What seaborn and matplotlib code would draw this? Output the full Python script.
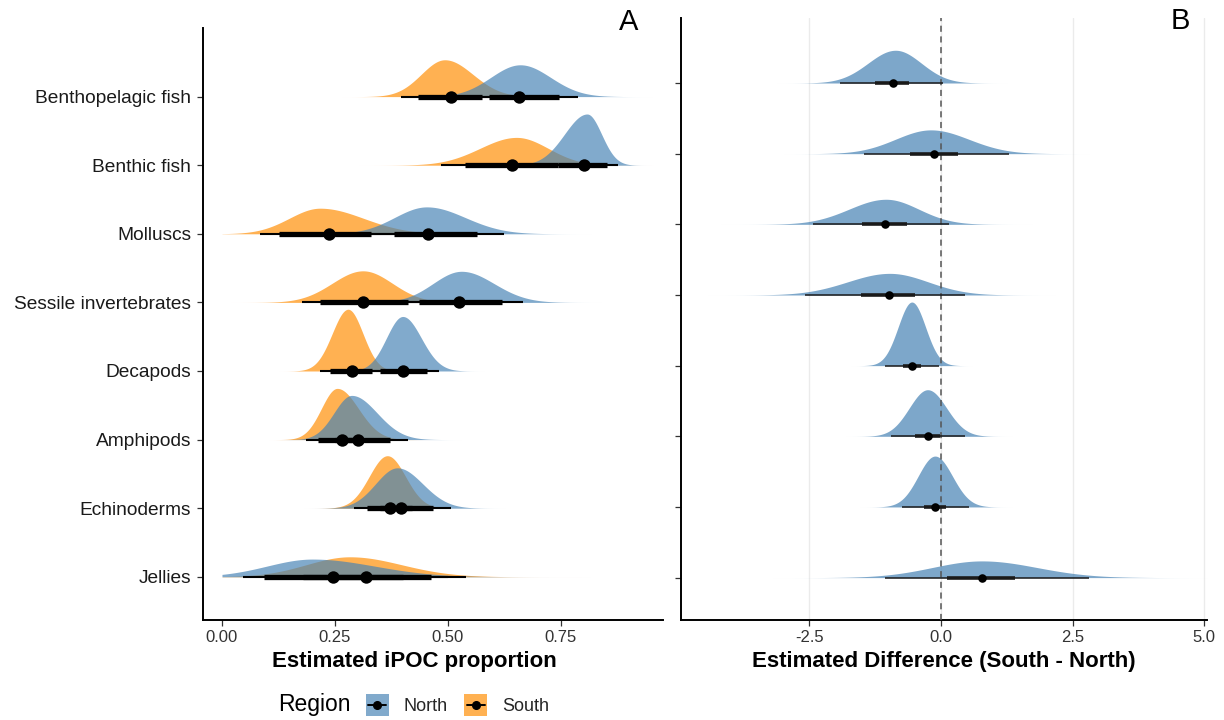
import numpy as np
import pandas as pd
import matplotlib
matplotlib.use("Agg")
import matplotlib.pyplot as plt
import seaborn as sns
from matplotlib.patches import Patch, Rectangle
from matplotlib.lines import Line2D
from matplotlib.legend_handler import HandlerBase

# ---------------- data ----------------
categories = ["Benthopelagic fish", "Benthic fish", "Molluscs", "Sessile invertebrates",
              "Decapods", "Amphipods", "Echinoderms", "Jellies"]
regions = ["North", "South"]

# Panel A: posterior shapes (mode, left spread, right spread) per region
north_mode = [0.660, 0.808, 0.453, 0.530, 0.400, 0.287, 0.388, 0.200]
north_sd_left = [0.065, 0.050, 0.071, 0.063, 0.036, 0.039, 0.048, 0.100]
north_sd_right = [0.067, 0.032, 0.085, 0.072, 0.041, 0.056, 0.056, 0.137]
south_mode = [0.493, 0.652, 0.217, 0.312, 0.279, 0.255, 0.366, 0.283]
south_sd_left = [0.052, 0.081, 0.068, 0.068, 0.035, 0.035, 0.040, 0.096]
south_sd_right = [0.062, 0.070, 0.096, 0.065, 0.033, 0.047, 0.040, 0.114]

# Panel A: medians and intervals
north_median = [0.657, 0.801, 0.457, 0.525, 0.401, 0.302, 0.397, 0.245]
north_q66_lo = [0.590, 0.744, 0.380, 0.436, 0.350, 0.250, 0.350, 0.094]
north_q66_hi = [0.746, 0.853, 0.565, 0.619, 0.453, 0.372, 0.468, 0.400]
north_q95_lo = [0.530, 0.700, 0.320, 0.390, 0.330, 0.220, 0.320, 0.047]
north_q95_hi = [0.788, 0.877, 0.624, 0.667, 0.481, 0.412, 0.506, 0.500]
south_median = [0.507, 0.642, 0.237, 0.311, 0.287, 0.265, 0.372, 0.318]
south_q66_lo = [0.434, 0.538, 0.127, 0.218, 0.239, 0.212, 0.320, 0.180]
south_q66_hi = [0.575, 0.744, 0.330, 0.412, 0.333, 0.310, 0.420, 0.462]
south_q95_lo = [0.396, 0.484, 0.084, 0.176, 0.217, 0.187, 0.293, 0.120]
south_q95_hi = [0.630, 0.790, 0.420, 0.460, 0.360, 0.350, 0.450, 0.541]

# Panel B: difference South - North
diff_mode = [-0.86, -0.19, -1.04, -0.97, -0.55, -0.25, -0.11, 0.78]
diff_sd_left = [0.52, 0.67, 0.70, 0.80, 0.26, 0.35, 0.32, 0.94]
diff_sd_right = [0.49, 0.72, 0.62, 0.73, 0.26, 0.36, 0.33, 1.04]
diff_median = [-0.91, -0.13, -1.06, -0.99, -0.54, -0.25, -0.11, 0.78]
diff_q66_lo = [-1.25, -0.58, -1.49, -1.51, -0.71, -0.49, -0.31, 0.12]
diff_q66_hi = [-0.61, 0.32, -0.64, -0.49, -0.37, -0.02, 0.10, 1.41]
diff_q95_lo = [-1.92, -1.45, -2.43, -2.57, -1.06, -0.94, -0.73, -1.06]
diff_q95_hi = [0.05, 1.29, 0.16, 0.45, -0.03, 0.45, 0.53, 2.82]

a_ticks = [0.00, 0.25, 0.50, 0.75]
a_ticklabels = ["0.00", "0.25", "0.50", "0.75"]
b_ticks = [-2.5, 0.0, 2.5, 5.0]
b_ticklabels = ["-2.5", "0.0", "2.5", "5.0"]

# ---------------- styling ----------------
sns.set_theme(style="white")
plt.rcParams["font.family"] = ["Liberation Sans", "DejaVu Sans"]

BLUE = "#4682B4"
ORANGE = "#FF8C00"
ALPHA = 0.68
region_color = {"North": BLUE, "South": ORANGE}

W, H = 1224, 720
fig = plt.figure(figsize=(W / 100, H / 100), dpi=100)


def box(l, r, t, b):
    return [l / W, 1 - b / H, (r - l) / W, (b - t) / H]


axA = fig.add_axes(box(203, 663, 28, 620))
axB = fig.add_axes(box(681, 1207, 18, 620))

ypos = np.arange(len(categories))[::-1] + 1.0  # top category highest


def split_normal(x, mode, sl, sr):
    s = np.where(x < mode, sl, sr)
    return 2.0 / (np.sqrt(2 * np.pi) * (sl + sr)) * np.exp(-0.5 * ((x - mode) / s) ** 2)


def grid_for(mode, sl, sr, lo=None, hi=None):
    x0, x1 = mode - 4.5 * sl, mode + 4.5 * sr
    if lo is not None:
        x0 = max(x0, lo)
    if hi is not None:
        x1 = min(x1, hi)
    return np.linspace(x0, x1, 400)


# ---- Panel A slabs ----
dfA = pd.DataFrame({
    "category": categories * 2,
    "region": ["North"] * 8 + ["South"] * 8,
    "y": list(ypos) * 2,
    "mode": north_mode + south_mode,
    "sl": north_sd_left + south_sd_left,
    "sr": north_sd_right + south_sd_right,
    "median": north_median + south_median,
    "q66_lo": north_q66_lo + south_q66_lo,
    "q66_hi": north_q66_hi + south_q66_hi,
    "q95_lo": north_q95_lo + south_q95_lo,
    "q95_hi": north_q95_hi + south_q95_hi,
})
curvesA = []
for _, r in dfA.iterrows():
    x = grid_for(r["mode"], r["sl"], r["sr"], 0.0, 1.0)
    d = split_normal(x, r["mode"], r["sl"], r["sr"])
    curvesA.append((r, x, d))
dmaxA = max(d.max() for _, _, d in curvesA)
for reg, z in (("South", 2), ("North", 3)):
    for r, x, d in curvesA:
        if r["region"] != reg:
            continue
        axA.fill_between(x, r["y"], r["y"] + 0.9 * d / dmaxA, color=region_color[reg],
                         alpha=ALPHA, lw=0, zorder=z)

# intervals & points
for _, r in dfA.iterrows():
    axA.hlines(r["y"], r["q95_lo"], r["q95_hi"], color="black", lw=1.5, zorder=4)
for _, r in dfA.iterrows():
    axA.hlines(r["y"], r["q66_lo"], r["q66_hi"], color="black", lw=3.8, zorder=4.5)
sns.scatterplot(data=dfA, x="median", y="y", color="black", s=80, edgecolor="black",
                linewidth=0, zorder=6, ax=axA, legend=False)

axA.set_xlim(-0.042, 0.976)
axA.set_ylim(0.37, 9.0)
axA.set_yticks(ypos)
axA.set_yticklabels(categories)
axA.set_xticks(a_ticks)
axA.set_xticklabels(a_ticklabels)
axA.set_ylabel("")
axA.set_xlabel("Estimated iPOC proportion", fontsize=16, fontweight="bold", color="black")
axA.xaxis.set_label_coords((414 - 203) / 460, -(662 - 620) / 592)
axA.xaxis.label.set_verticalalignment("center")

# ---- Panel B ----
dfB = pd.DataFrame({
    "category": categories, "y": ypos,
    "mode": diff_mode, "sl": diff_sd_left, "sr": diff_sd_right,
    "median": diff_median, "q66_lo": diff_q66_lo, "q66_hi": diff_q66_hi,
    "q95_lo": diff_q95_lo, "q95_hi": diff_q95_hi,
})
curvesB = []
for _, r in dfB.iterrows():
    x = grid_for(r["mode"], r["sl"], r["sr"])
    d = split_normal(x, r["mode"], r["sl"], r["sr"])
    curvesB.append((r, x, d))
dmaxB = max(d.max() for _, _, d in curvesB)

for xv in b_ticks:
    axB.axvline(xv, color="#EBEBEB", lw=1.0, zorder=0)
for r, x, d in curvesB:
    axB.fill_between(x, r["y"], r["y"] + 0.9 * d / dmaxB, color=BLUE, alpha=0.7, lw=0, zorder=2)
axB.axvline(0, color="#555555", lw=1.1, ls=(0, (4, 3)), zorder=3)
for _, r in dfB.iterrows():
    axB.hlines(r["y"], r["q95_lo"], r["q95_hi"], color="#1a1a1a", lw=1.1, zorder=4)
    axB.hlines(r["y"], r["q66_lo"], r["q66_hi"], color="#1a1a1a", lw=2.6, zorder=4.5)
sns.scatterplot(data=dfB, x="median", y="y", color="black", s=38, edgecolor="black",
                linewidth=0, zorder=6, ax=axB, legend=False)

axB.set_xlim(-4.93, 5.05)
axB.set_ylim(0.40, 8.92)
axB.set_yticks(ypos)
axB.set_yticklabels([])
axB.set_xticks(b_ticks)
axB.set_xticklabels(b_ticklabels)
axB.set_ylabel("")
axB.set_xlabel("Estimated Difference (South - North)", fontsize=16, fontweight="bold", color="black")
axB.xaxis.set_label_coords(0.5, -(662 - 620) / 602)
axB.xaxis.label.set_verticalalignment("center")

for ax in (axA, axB):
    sns.despine(ax=ax)
    for s in ("left", "bottom"):
        ax.spines[s].set_color("black")
        ax.spines[s].set_linewidth(1.4)
    ax.tick_params(axis="both", which="major", direction="out", length=4, width=0.9,
                   color="#333333", left=True, bottom=True)
    ax.tick_params(axis="y", labelsize=13.8, labelcolor="#1a1a1a", pad=4.5)
    ax.tick_params(axis="x", labelsize=12, labelcolor="#333333", pad=3)

# panel tags
fig.text(629 / W, 1 - 22 / H, "A", fontsize=21, ha="center", va="center", color="black")
fig.text(1180 / W, 1 - 21 / H, "B", fontsize=21, ha="center", va="center", color="black")


# legend: filled square key with a centred point + interval line
class SlabKeyHandler(HandlerBase):
    def create_artists(self, legend, orig_handle, xdescent, ydescent, width, height,
                       fontsize, trans):
        rect = Rectangle((-xdescent, -ydescent), width, height,
                         facecolor=orig_handle.get_facecolor(), edgecolor="none",
                         transform=trans)
        yc = -ydescent + height / 2
        line = Line2D([-xdescent + 0.1 * width, -xdescent + 0.9 * width], [yc, yc],
                      color="black", lw=1.4, transform=trans)
        dot = Line2D([-xdescent + width / 2], [yc], marker="o", markersize=5.5,
                     color="black", lw=0, transform=trans)
        return [rect, line, dot]


fig.text(278 / W, 1 - 705 / H, "Region", fontsize=16.5, ha="left", va="center", color="black")
handles = [Patch(facecolor=region_color[reg], alpha=ALPHA) for reg in regions]
fig.legend(handles, regions, handler_map={Patch: SlabKeyHandler()},
           loc="center left", bbox_to_anchor=(366 / W, 1 - 705 / H), ncol=2, frameon=False,
           fontsize=13, handlelength=1.25, handleheight=1.45, handletextpad=0.85,
           columnspacing=0.9, borderpad=0, borderaxespad=0)

fig.savefig("out.png", dpi=100)
